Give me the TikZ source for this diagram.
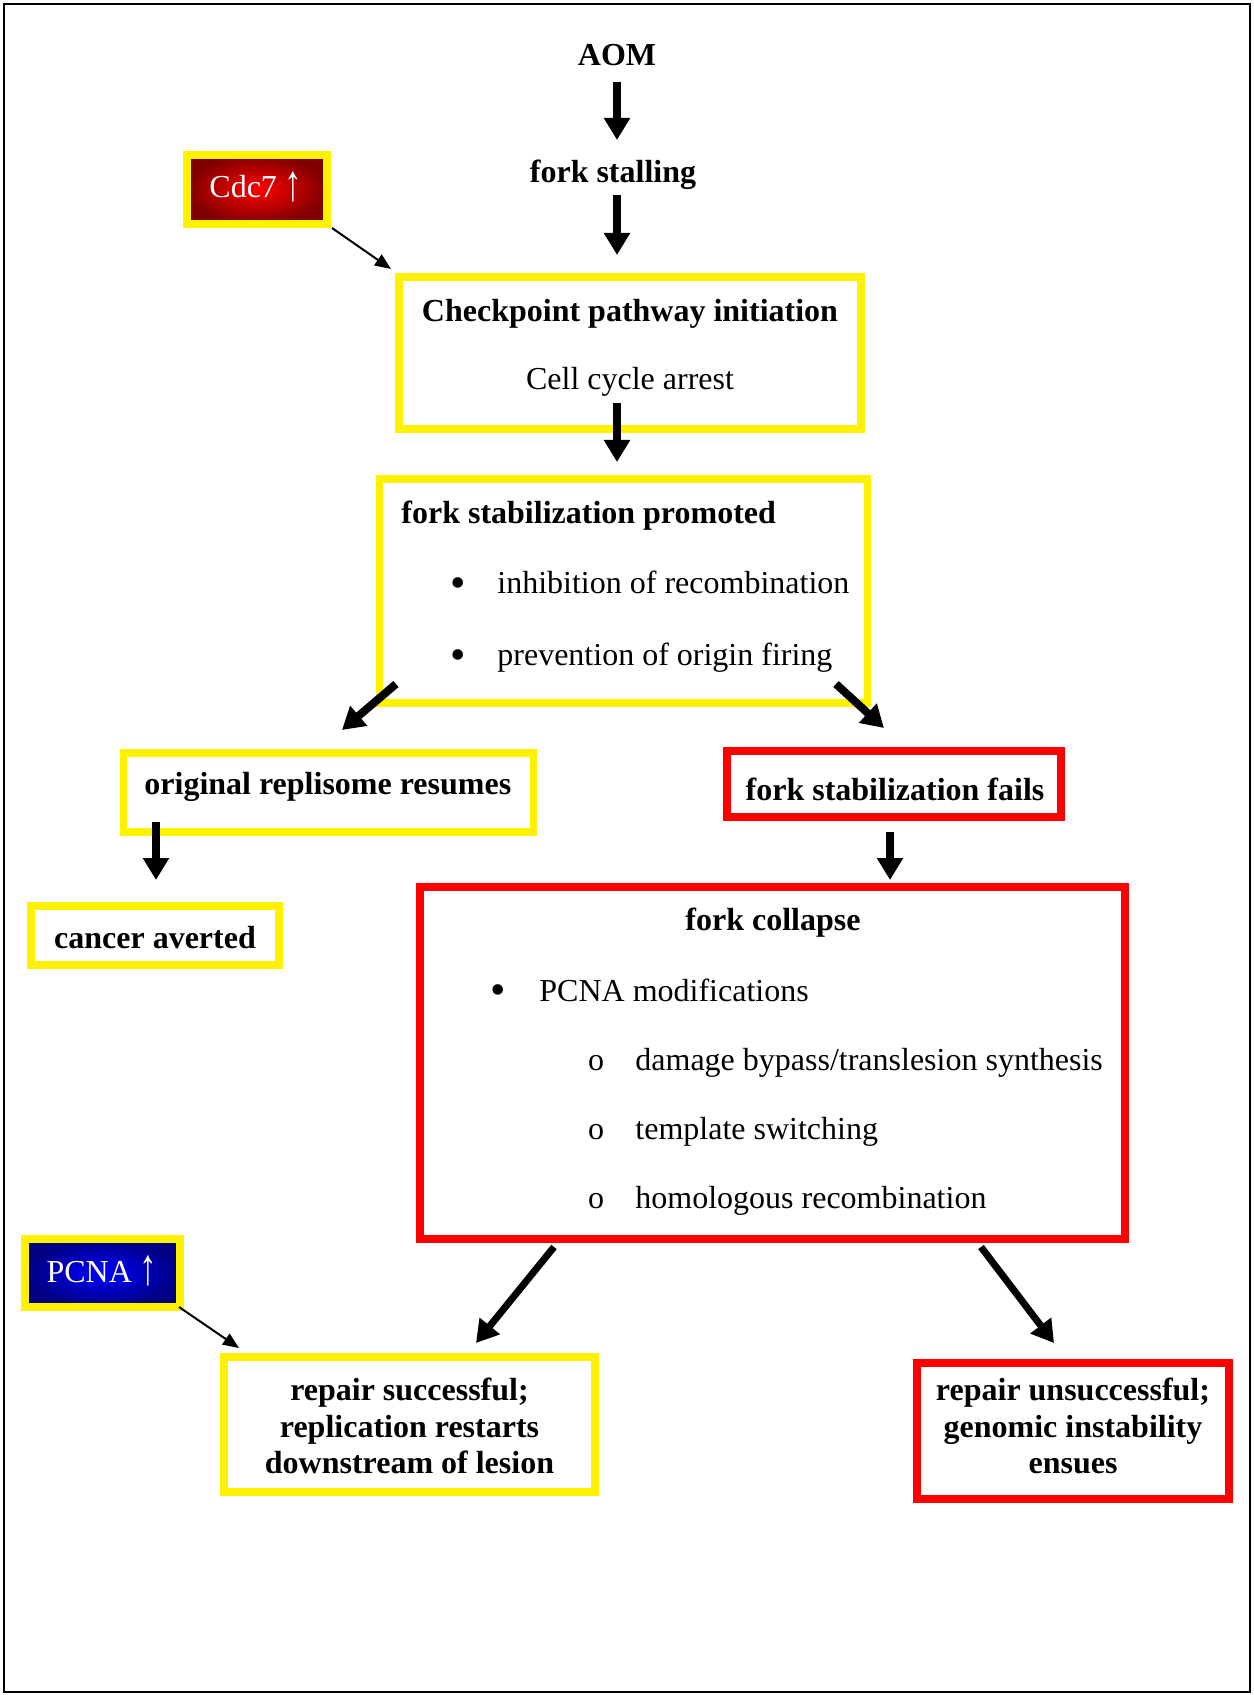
\documentclass[tikz,border=0pt]{standalone}
\usepackage{fontspec}
\setmainfont{Liberation Serif}
\usetikzlibrary{arrows.meta}
\newcommand{\uparr}{\raisebox{-0.08em}{\scalebox{1.1}[1.6]{↑}}}
\begin{document}
\begin{tikzpicture}[x=0.5pt,y=-0.5pt,
  every node/.style={font=\fontsize{16}{18.3}\selectfont, inner sep=0pt},
  title/.style={font=\fontsize{16}{18.3}\selectfont\bfseries},
  bul/.style={font=\fontsize{22}{22}\selectfont},
  ybox/.style={draw=yellow, line width=3.75pt, rectangle},
  rbox/.style={draw=red, line width=3.75pt, rectangle},
  bigarrow/.style={line width=4pt, -{Triangle[width=12.5pt,length=11pt]}},
  thinarrow/.style={line width=1pt, -{Triangle[width=6.5pt,length=8pt]}},
  tagbox/.style={draw=yellow, line width=4pt, rectangle, text=white},
]
\useasboundingbox (0,0) rectangle (1253,1695);
\draw[line width=1pt] (4,4) rectangle (1250,1692);

% boxes
\node[tagbox, minimum width=70pt, minimum height=34.5pt, inner color=red, outer color=red!50!black] (cdc) at (257,189.5) {};
\node[tagbox, minimum width=77.5pt, minimum height=34pt, inner color=blue, outer color=blue!50!black] (pcna) at (102.5,1273) {};
\node[ybox, minimum width=231pt, minimum height=76pt] (cp) at (630,353) {};
\node[ybox, minimum width=244pt, minimum height=112pt] (fsp) at (623.5,591) {};
\node[ybox, minimum width=205pt, minimum height=39.5pt] (orr) at (328.5,792.5) {};
\node[ybox, minimum width=124pt, minimum height=29.5pt] (ca) at (155,935.5) {};
\node[rbox, minimum width=167pt, minimum height=33pt] (fsf) at (894,784) {};
\node[rbox, minimum width=352.5pt, minimum height=176pt] (fc) at (772.5,1063) {};
\node[ybox, minimum width=185.5pt, minimum height=67.5pt] (rs) at (409.5,1424.5) {};
\node[rbox, minimum width=156pt, minimum height=68pt] (ru) at (1073,1431) {};

% texts
\node[text=white, anchor=base] (cdct) at (256,198) {Cdc7 \uparr};
\node[text=white, anchor=base] (pcnat) at (102,1282) {PCNA \uparr};
\node[title] (aom) at (617,55) {AOM};
\node[title] (stall) at (613,174.5) {fork stalling};
\node[title, anchor=base] (cpt) at (630,322) {Checkpoint pathway initiation};
\node[anchor=base] (cca) at (630,390) {Cell cycle arrest};
\node[title, anchor=base west] (fspt) at (401,523) {fork stabilization promoted};
\node[bul] (b1) at (458,587.5) {•};
\node[anchor=base west] (t1) at (497,593) {inhibition of recombination};
\node[bul] (b2) at (458,659.5) {•};
\node[anchor=base west] (t2) at (497,665) {prevention of origin firing};
\node[title, anchor=base west] (orrt) at (144,794) {original replisome resumes};
\node[title, anchor=base] (cat) at (155,948) {cancer averted};
\node[title, anchor=base] (fsft) at (895,800) {fork stabilization fails};
\node[title, anchor=base] (fct) at (773,930) {fork collapse};
\node[bul] (b3) at (498,995) {•};
\node[anchor=base west] (t3) at (539,1001) {PCNA modifications};
\node[anchor=base] (o1) at (596,1070) {o};
\node[anchor=base west] (s1) at (635,1070) {damage bypass/translesion synthesis};
\node[anchor=base] (o2) at (596,1139.5) {o};
\node[anchor=base west] (s2) at (635,1139.5) {template switching};
\node[anchor=base] (o3) at (596,1208.5) {o};
\node[anchor=base west] (s3) at (635,1208.5) {homologous recombination};
\node[title, align=center] (rst) at (409.5,1426) {repair successful;\\replication restarts\\downstream of lesion};
\node[title, align=center] (rut) at (1073,1426) {repair unsuccessful;\\genomic instability\\ensues};

% connector ends
\coordinate (a1s) at (617,82);   \coordinate (a1e) at (617,140);
\coordinate (a2s) at (617,195);  \coordinate (a2e) at (617,255);
\coordinate (a3s) at (617,403);  \coordinate (a3e) at (617,462);
\coordinate (c1s) at (332,228);  \coordinate (c1e) at (391,269);
\coordinate (dls) at (396,684);  \coordinate (dle) at (342,730);
\coordinate (drs) at (836,684);  \coordinate (dre) at (884,728);
\coordinate (a4s) at (156,822);  \coordinate (a4e) at (156,880);
\coordinate (a5s) at (890,832);  \coordinate (a5e) at (890,880);
\coordinate (bls) at (554,1247); \coordinate (ble) at (476,1343);
\coordinate (brs) at (981,1247); \coordinate (bre) at (1054,1343);
\coordinate (p1s) at (179,1307); \coordinate (p1e) at (239,1348);

\draw[bigarrow] (a1s) -- (a1e);
\draw[bigarrow] (a2s) -- (a2e);
\draw[bigarrow] (a3s) -- (a3e);
\draw[thinarrow] (c1s) -- (c1e);
\draw[bigarrow] (dls) -- (dle);
\draw[bigarrow] (drs) -- (dre);
\draw[bigarrow] (a4s) -- (a4e);
\draw[bigarrow] (a5s) -- (a5e);
\draw[bigarrow, line width=3.5pt] (bls) -- (ble);
\draw[bigarrow, line width=3.5pt] (brs) -- (bre);
\draw[thinarrow] (p1s) -- (p1e);
\end{tikzpicture}
\end{document}
